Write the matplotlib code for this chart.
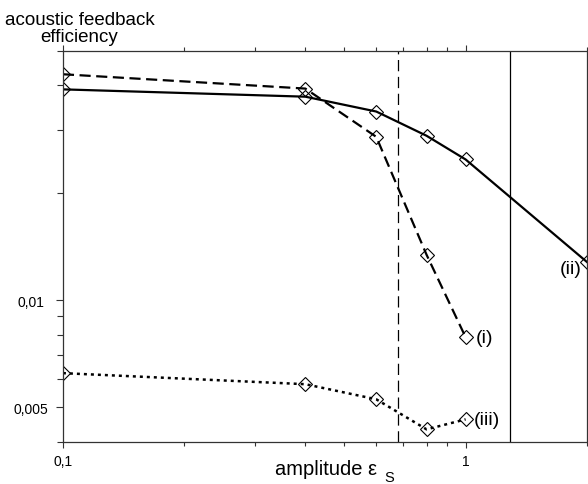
import numpy as np
import matplotlib
matplotlib.use("Agg")
import matplotlib.pyplot as plt
from matplotlib.ticker import LogLocator, FixedLocator, FixedFormatter, NullFormatter

plt.rcParams['font.family'] = ['Liberation Sans', 'DejaVu Sans']

# amplitude values where the efficiency was computed
amp = [0.1, 0.4, 0.6, 0.8, 1.0]
amp_ii = [0.1, 0.4, 0.6, 0.8, 1.0, 2.0]

# efficiency curves
eff_i = [0.0430, 0.0392, 0.0287, 0.0134, 0.00787]
eff_ii = [0.0390, 0.0372, 0.0338, 0.0289, 0.0248, 0.0128]
eff_iii = [0.00624, 0.00581, 0.00527, 0.00434, 0.00463]

# thresholds
eps_dash = 0.678
eps_solid = 1.29

fig = plt.figure(figsize=(5.88, 4.85), dpi=100)
ax = fig.add_axes([0.107, 0.0866, 0.891, 0.8064])

mk = dict(marker='D', markersize=7.5, mfc='none', mec='black', mew=0.8, color='black')
ax.plot(amp, eff_i, lw=1.6, dashes=(5, 2.5), **mk)
ax.plot(amp_ii, eff_ii, lw=1.6, **mk)
ax.plot(amp, eff_iii, lw=1.8, dashes=(1.2, 1.6), **mk)

ax.axvline(eps_dash, color='black', lw=0.9, dashes=(9, 4.5))
ax.axvline(eps_solid, color='black', lw=0.9)

ax.set_xscale('log')
ax.set_yscale('log')
ax.set_xlim(0.1, 2.0)
ax.set_ylim(0.004, 0.05)

ax.xaxis.set_major_locator(FixedLocator([0.1, 1.0]))
ax.xaxis.set_major_formatter(FixedFormatter(['0,1', '1']))
ax.xaxis.set_minor_locator(LogLocator(base=10, subs=np.arange(2, 10)))
ax.xaxis.set_minor_formatter(NullFormatter())
ax.yaxis.set_major_locator(FixedLocator([0.005, 0.01]))
ax.yaxis.set_major_formatter(FixedFormatter(['0,005', '0,01']))
ax.yaxis.set_minor_locator(LogLocator(base=10, subs=np.arange(2, 10)))
ax.yaxis.set_minor_formatter(NullFormatter())

ax.tick_params(which='both', direction='out', top=True, right=True,
               labelsize=10, color='#333333', width=0.8)
ax.tick_params(axis='y', which='major', length=5, pad=18)
ax.tick_params(axis='y', which='minor', length=4)
ax.tick_params(axis='x', which='major', length=4, pad=4.5)
ax.tick_params(axis='x', which='minor', length=3)
for lab in ax.get_yticklabels():
    lab.set_horizontalalignment('center')
for s in ax.spines.values():
    s.set_color('#333333')
    s.set_linewidth(0.9)

ax.text(1.06, eff_i[-1], '(i)', fontsize=14, va='center', ha='left')
ax.text(1.05, eff_iii[-1], '(iii)', fontsize=14, va='center', ha='left')
ax.text(1.94, 0.0123, '(ii)', fontsize=14, va='center', ha='right')

fig.text(275 / 588, 10 / 485, 'amplitude ε', fontsize=14.5, ha='left', va='baseline')
fig.text(384 / 588, 3 / 485, 'S', fontsize=10.5, ha='left', va='baseline')
fig.text(0.135, 0.94, 'acoustic feedback\nefficiency', fontsize=13.5,
         ha='center', va='center', linespacing=0.95)

fig.savefig('out.png', dpi=100)
